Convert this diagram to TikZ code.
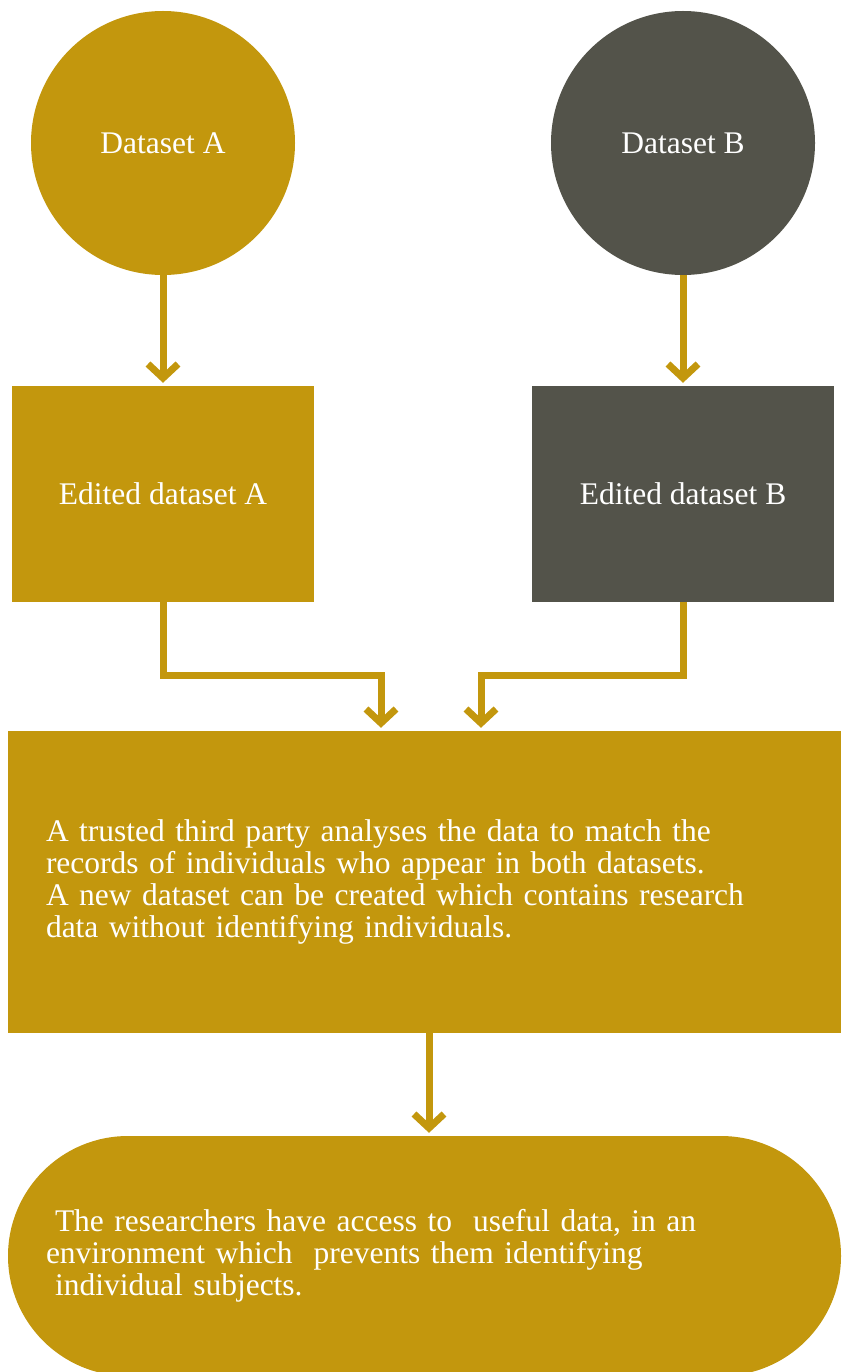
\documentclass[tikz,border=0pt]{standalone}
\usepackage{fontspec}
\setmainfont{Liberation Serif}
\usepackage{tikz}
\usetikzlibrary{arrows.meta}

\definecolor{gold}{HTML}{C3970D}
\definecolor{slate}{HTML}{53534A}

\tikzset{
    circ/.style={circle, minimum size=264pt, inner sep=0pt, text=white, font=\fontsize{31.5}{32}\selectfont},
    box/.style={rectangle, inner sep=0pt, text=white, font=\fontsize{31.5}{32}\selectfont},
    link/.style={line width=7pt, gold, line join=miter, shorten >=3pt,
        -{Straight Barb[length=14pt, width=30pt, line width=7pt]}}
}

\begin{document}
\begin{tikzpicture}[x=1pt, y=-1pt]
        \useasboundingbox (0,0) rectangle (841,1372);
        \node[circ, fill=gold] (dsA) at (163,143) {Dataset A};
        \node[circ, fill=slate] (dsB) at (683,143) {Dataset B};
        \node[box, fill=gold, minimum width=302pt, minimum height=216pt] (edA) at (163,494) {Edited dataset A};
        \node[box, fill=slate, minimum width=302pt, minimum height=216pt] (edB) at (683,494) {Edited dataset B};
        \node[box, fill=gold, minimum width=833pt, minimum height=302pt, align=left,
            text width=757pt] (ttp) at (424.5,882)
            {A trusted third party analyses the data to match the\\
             records of individuals who appear in both datasets.\\
             A new dataset can be created which contains research\\
             data without identifying individuals.};
        \node[box, fill=gold, minimum width=833pt, minimum height=240pt, rounded corners=120pt,
            align=left, text width=757pt] (res) at (424.5,1256)
            {\hspace{9pt}The researchers have access to~ useful data, in an\\
             environment which~ prevents them identifying\\
             \hspace{9pt}individual subjects.};
        \draw[link] (dsA) -- (edA);
        \draw[link] (dsB) -- (edB);
        \draw[link] (edA.south) -- ++(0,73) -| ([xshift=-43.5pt]ttp.north);
        \draw[link] (edB.south) -- ++(0,73) -| ([xshift=56.5pt]ttp.north);
        \draw[link] ([xshift=4.5pt]ttp.south) -- ([xshift=4.5pt]res.north);
    \end{tikzpicture}
\end{document}
